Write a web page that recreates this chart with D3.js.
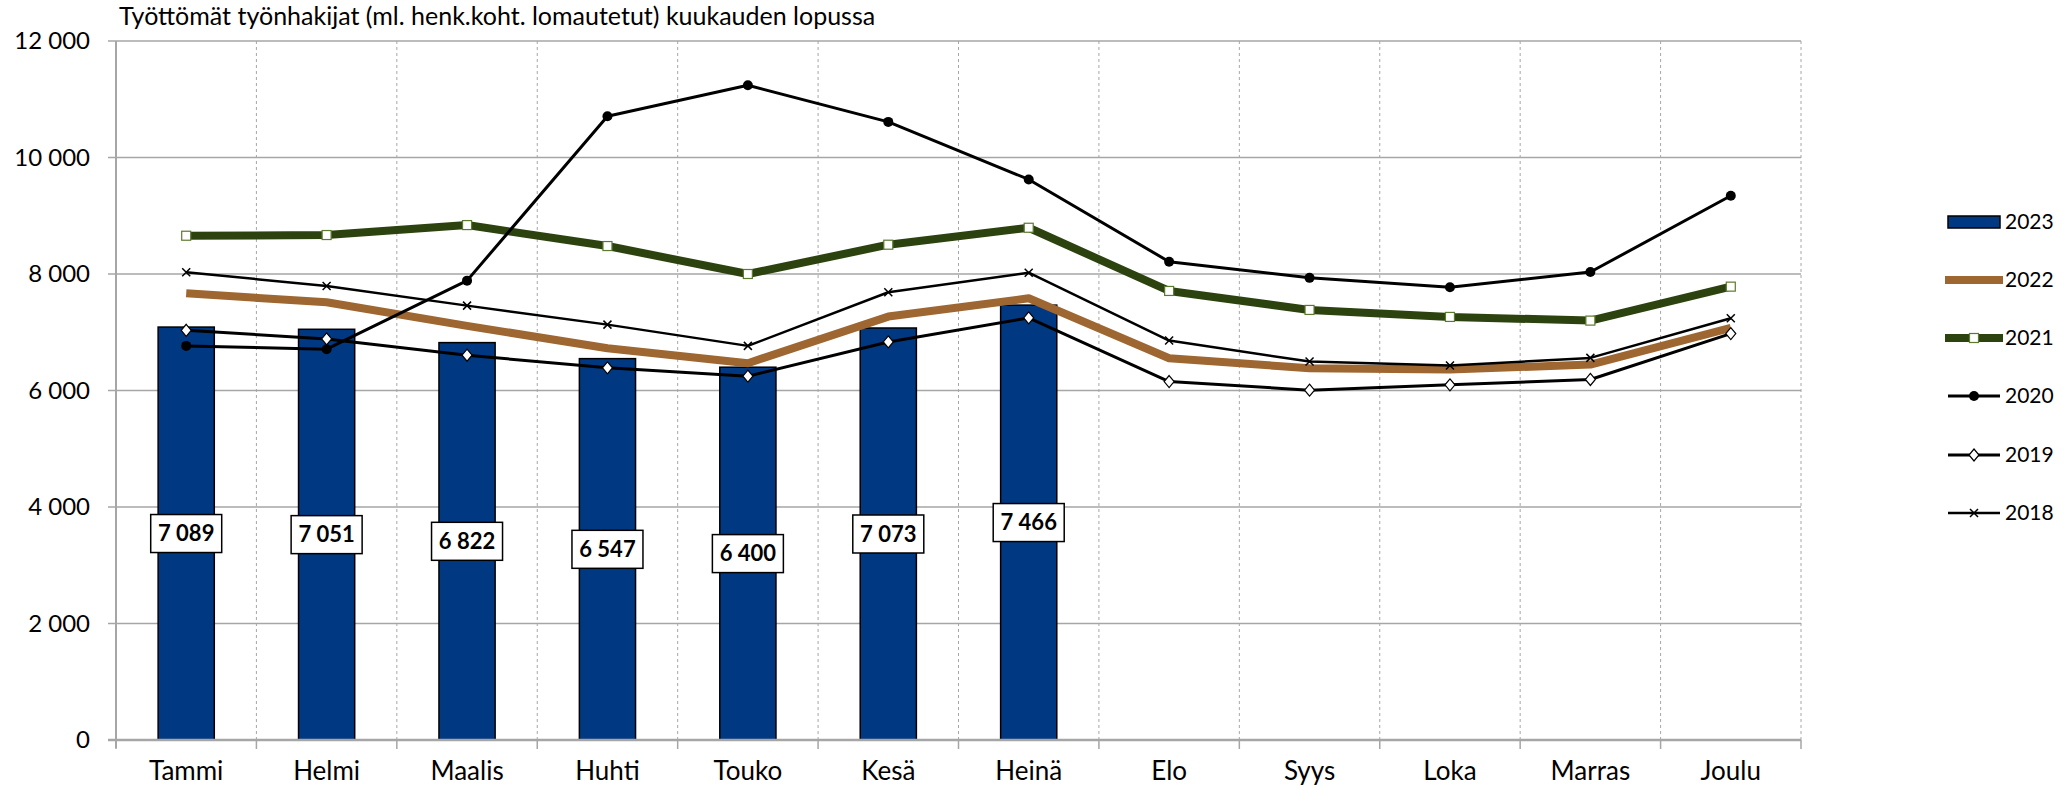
<!DOCTYPE html>
<html><head><meta charset="utf-8">
<script src="https://cdn.jsdelivr.net/npm/d3@7"></script>
<style>body{margin:0;background:#fff}svg{display:block}text{font-family:Lato,"Noto Sans",sans-serif}</style>
</head><body>
<svg id="c" width="2069" height="788"></svg>
<script>
const months = ["Tammi","Helmi","Maalis","Huhti","Touko","Kesä","Heinä","Elo","Syys","Loka","Marras","Joulu"];
const yTicks = [0,2000,4000,6000,8000,10000,12000];
const title = "Työttömät työnhakijat (ml. henk.koht. lomautetut) kuukauden lopussa";
const s2023 = [7089,7051,6822,6547,6400,7073,7466];
const s2022 = [7669,7514,7109,6726,6469,7269,7583,6554,6383,6360,6446,7074];
const s2021 = [8657,8669,8840,8480,8000,8503,8794,7709,7383,7263,7200,7783];
const s2020 = [6766,6709,7886,10709,11240,10611,9623,8211,7934,7771,8034,9343];
const s2019 = [7034,6886,6606,6389,6246,6834,7246,6154,6006,6097,6189,6977];
const s2018 = [8029,7794,7457,7131,6766,7686,8023,6857,6497,6429,6560,7240];

const svg = d3.select("#c");
const L=116, R=1801, T=41, B=740;
const x = d3.scaleBand().domain(months).range([L,R]);
const y = d3.scaleLinear().domain([0,12000]).range([B,T]);
const cx = m => x(m)+x.bandwidth()/2;
const loc = d3.formatLocale({decimal:",",thousands:" ",grouping:[3],currency:["","€"]});
const fmt = loc.format(",");
const grid = "#A6A6A6";

// horizontal grid
svg.append("g").selectAll("line").data(yTicks).join("line")
  .attr("x1",L-8).attr("x2",R).attr("y1",d=>y(d)).attr("y2",d=>y(d))
  .attr("stroke",grid).attr("stroke-width",1.5);
// vertical dashed grid
svg.append("g").selectAll("line").data(d3.range(1,13)).join("line")
  .attr("x1",d=>L+x.step()*d).attr("x2",d=>L+x.step()*d)
  .attr("y1",T).attr("y2",B)
  .attr("stroke",grid).attr("stroke-width",1).attr("stroke-dasharray","3,3");

// y axis labels
svg.append("g").selectAll("text").data(yTicks).join("text")
  .attr("x",90).attr("y",d=>y(d)).attr("dy","0.35em").attr("text-anchor","end")
  .attr("font-size",24).attr("fill","#000").text(d=>fmt(d));

// bars
const bw = x.bandwidth()*0.4;
svg.append("g").selectAll("rect").data(s2023).join("rect")
  .attr("x",(d,i)=>cx(months[i])-bw/2).attr("width",bw)
  .attr("y",d=>y(d)).attr("height",d=>B-y(d))
  .attr("fill","#003882").attr("stroke","#000").attr("stroke-width",1.5);

// axes lines
svg.append("line").attr("x1",L).attr("x2",L).attr("y1",T).attr("y2",B+8).attr("stroke",grid).attr("stroke-width",2);
svg.append("line").attr("x1",L-8).attr("x2",R).attr("y1",B).attr("y2",B).attr("stroke",grid).attr("stroke-width",2.5);
svg.append("g").selectAll("line").data(d3.range(13)).join("line")
  .attr("x1",d=>L+x.step()*d).attr("x2",d=>L+x.step()*d).attr("y1",B).attr("y2",B+9)
  .attr("stroke",grid).attr("stroke-width",1.5);

// x labels
svg.append("g").selectAll("text").data(months).join("text")
  .attr("x",d=>cx(d)).attr("y",780).attr("text-anchor","middle")
  .attr("font-size",26).attr("fill","#000").text(d=>d);

// lines
const line = d3.line().x((d,i)=>cx(months[i])).y(d=>y(d));
const series = [
  {name:"2022",data:s2022,color:"#9E6631",w:8,marker:null},
  {name:"2021",data:s2021,color:"#2D430F",w:8,marker:"square"},
  {name:"2020",data:s2020,color:"#000",w:3,marker:"circle"},
  {name:"2019",data:s2019,color:"#000",w:3,marker:"diamond"},
  {name:"2018",data:s2018,color:"#000",w:2.5,marker:"x"}
];
function drawMarker(g,type,px,py){
  if(type==="circle") g.append("circle").attr("cx",px).attr("cy",py).attr("r",5).attr("fill","#000");
  else if(type==="square") g.append("rect").attr("x",px-4.5).attr("y",py-4.5).attr("width",9).attr("height",9).attr("fill","#fff").attr("stroke","#5C7A2E").attr("stroke-width",1.2);
  else if(type==="diamond") g.append("path").attr("d",`M${px},${py-6}L${px+5},${py}L${px},${py+6}L${px-5},${py}Z`).attr("fill","#fff").attr("stroke","#000").attr("stroke-width",1.2);
  else if(type==="x") g.append("path").attr("d",`M${px-4},${py-4}L${px+4},${py+4}M${px-4},${py+4}L${px+4},${py-4}`).attr("stroke","#000").attr("stroke-width",1.5);
}
series.forEach(s=>{
  const g = svg.append("g");
  g.append("path").datum(s.data).attr("d",line).attr("fill","none")
    .attr("stroke",s.color).attr("stroke-width",s.w).attr("stroke-linejoin","round");
  if(s.marker) s.data.forEach((d,i)=>drawMarker(g,s.marker,cx(months[i]),y(d)));
});

// data labels
const lg = svg.append("g");
s2023.forEach((d,i)=>{
  const px=cx(months[i]), py=(y(d)+B)/2;
  lg.append("rect").attr("x",px-35.5).attr("y",py-19).attr("width",71).attr("height",38)
    .attr("fill","#fff").attr("stroke","#000").attr("stroke-width",1.5);
  lg.append("text").attr("x",px).attr("y",py).attr("dy","0.35em").attr("text-anchor","middle")
    .attr("font-size",22).attr("font-weight","bold").text(fmt(d));
});

// title
svg.append("text").attr("x",119).attr("y",25).attr("font-size",25).text(title);

// legend
const legY = [222,280,338,396,455,513];
const leg = svg.append("g");
leg.append("rect").attr("x",1948).attr("y",legY[0]-6).attr("width",52).attr("height",12)
  .attr("fill","#003882").attr("stroke","#000").attr("stroke-width",1.5);
leg.append("text").attr("x",2005).attr("y",legY[0]).attr("dy","0.35em").attr("font-size",21).text("2023");
series.forEach((s,k)=>{
  const yy = legY[k+1];
  const x1 = s.w>5?1945:1948, x2 = s.w>5?2003:2000;
  leg.append("line").attr("x1",x1).attr("x2",x2).attr("y1",yy).attr("y2",yy).attr("stroke",s.color).attr("stroke-width",s.w);
  if(s.marker) drawMarker(leg,s.marker,1974,yy);
  leg.append("text").attr("x",2005).attr("y",yy).attr("dy","0.35em").attr("font-size",21).text(s.name);
});
</script>
</body></html>
